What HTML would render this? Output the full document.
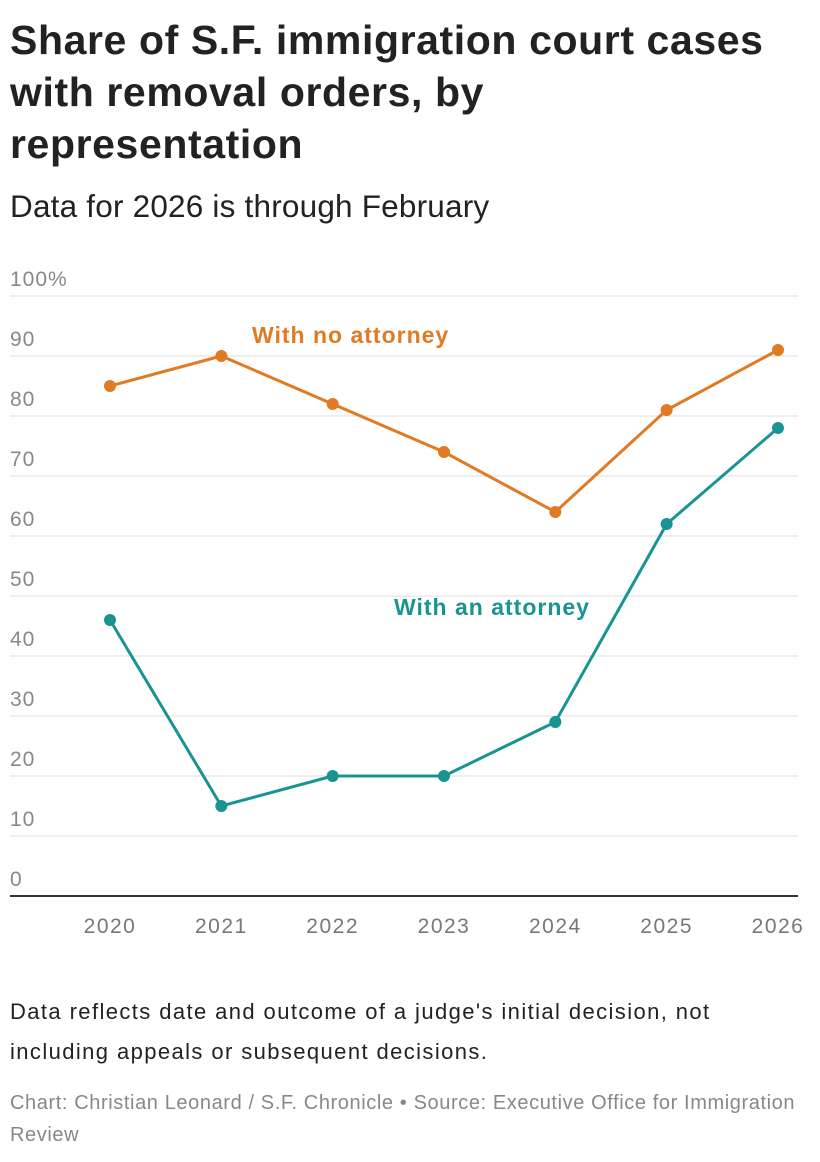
<!DOCTYPE html>
<html><head><meta charset="utf-8"><style>
body{margin:0;width:820px;height:1162px;background:#fff;font-family:"Liberation Sans",sans-serif;position:relative;overflow:hidden}
.t{position:absolute;left:10px;top:14px;width:800px;font-size:41px;font-weight:bold;line-height:52px;color:#222;letter-spacing:0.6px}
.s{position:absolute;left:10px;top:188px;font-size:31.5px;color:#222;letter-spacing:0.2px}
.n{position:absolute;left:10px;top:992px;width:810px;font-size:22px;line-height:40px;color:#222;letter-spacing:1.4px}
.src{position:absolute;left:10px;top:1087px;width:810px;font-size:20px;line-height:32px;color:#888;letter-spacing:0.6px}
svg{position:absolute;left:0;top:0}
</style></head><body>
<div class="t">Share of S.F. immigration court cases<br>with removal orders, by<br>representation</div>
<div class="s">Data for 2026 is through February</div>
<svg id="c" width="820" height="980"></svg>
<div class="n">Data reflects date and outcome of a judge's initial decision, not<br>including appeals or subsequent decisions.</div>
<div class="src">Chart: Christian Leonard / S.F. Chronicle • Source: Executive Office for Immigration<br>Review</div>
<script>
const years=["2020","2021","2022","2023","2024","2025","2026"];
const noAttorney=[85,90,82,74,64,81,91];
const withAttorney=[46,15,20,20,29,62,78];
const yTicks=[0,10,20,30,40,50,60,70,80,90,100];
const NS="http://www.w3.org/2000/svg";
const svg=document.getElementById('c');
const x=i=>110+i*(778-110)/(years.length-1);
const y=v=>896-v*6;
function mk(t,a){const e=document.createElementNS(NS,t);for(const k in a)e.setAttribute(k,a[k]);svg.appendChild(e);return e;}
yTicks.forEach(v=>{
 if(v>0){const g=mk('line',{x1:10,x2:798,y1:y(v),y2:y(v),stroke:'#ddd','stroke-width':1});
 
 }
 const t=mk('text',{x:10,y:y(v)-10,'font-size':21,fill:'#888','letter-spacing':'1','font-family':'Liberation Sans'});
 t.textContent=v===100?'100%':v;
 
 
});
const ax=mk('line',{x1:10,x2:798,y1:896,y2:896,stroke:'#333','stroke-width':2});


years.forEach((yr,i)=>{const t=mk('text',{x:x(i),y:933,'font-size':21,fill:'#777','text-anchor':'middle','letter-spacing':'1.5','font-family':'Liberation Sans'});
 t.textContent=yr;
 
 });
function series(vals,col,name){
 const p=mk('polyline',{points:vals.map((v,i)=>x(i)+','+y(v)).join(' '),fill:'none',stroke:col,'stroke-width':3});
 
 
 vals.forEach((v,i)=>{const c=mk('circle',{cx:x(i),cy:y(v),r:6,fill:col});
  
  });
}
series(noAttorney,'#e07b24','no-attorney');
series(withAttorney,'#1a9393','with-attorney');
const l1=mk('text',{x:252,y:343,'font-size':23,'font-weight':'bold',fill:'#e07b24','letter-spacing':'1','font-family':'Liberation Sans'});
l1.textContent='With no attorney';


const l2=mk('text',{x:394,y:615,'font-size':23,'font-weight':'bold',fill:'#1a9393','letter-spacing':'1','font-family':'Liberation Sans'});
l2.textContent='With an attorney';


</script>
</body></html>
